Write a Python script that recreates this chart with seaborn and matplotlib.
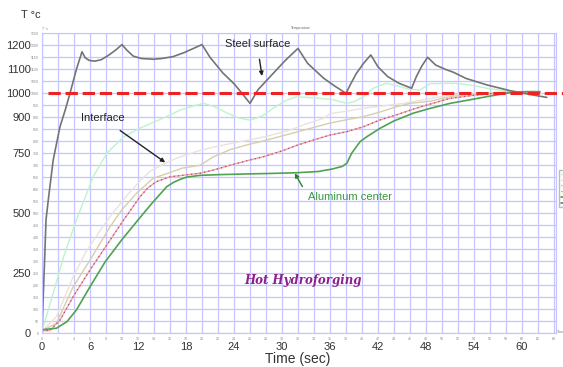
"""
Hot hydroforging - temperature vs time (steel surface, interface, aluminum center)
"""

import pandas as pd
import seaborn as sns
import matplotlib.pyplot as plt

sns.set_style("white")
plt.rcParams['font.family'] = ['Liberation Sans', 'DejaVu Sans']

# Podaci ocitani sa slike
steel_t = [0, 0.15, 0.37, 0.5, 0.8, 1.4, 2.25, 2.9, 3.5, 4.3, 5.0, 5.4, 5.9, 6.6, 7.4, 8.3, 9.2, 10.0,
           10.6, 11.4, 12.4, 13.9, 15.0, 16.4, 17.8, 19.0, 20.0, 21.0, 22.6, 24.0, 25.0, 26.0, 27.0,
           28.9, 30.5, 32.0, 33.2, 35.2, 36.6, 38.0, 38.6, 39.3, 40.2, 41.1, 42.0, 43.2, 44.6, 46.2,
           46.8, 47.5, 48.2, 49.2, 50.4, 51.4, 53.0, 55.6, 58.5, 61.0, 63.1]
steel_T = [0, 150, 347, 472, 560, 722, 861, 930, 1000, 1100, 1173, 1148, 1137, 1134, 1140, 1158, 1180,
           1203, 1180, 1155, 1145, 1142, 1145, 1153, 1170, 1188, 1203, 1150, 1085, 1040, 1000, 958, 1015,
           1083, 1140, 1187, 1125, 1063, 1030, 1000, 1040, 1083, 1125, 1160, 1110, 1070, 1042, 1021,
           1070, 1115, 1150, 1118, 1100, 1088, 1062, 1035, 1011, 995, 983]

mint_t = [0, 0.4, 1.4, 2.7, 4.3, 6.4, 8.1, 10.2, 12.25, 15.6, 17.25, 19.0, 20.2, 21.5, 23.0, 24.5, 26.0,
          27.5, 29.0, 30.5, 31.8, 33.5, 35.0, 36.2, 38.1, 39.0, 40.2, 41.4, 43.0, 44.5, 46.0, 47.25,
          48.5, 51.4, 53.5, 55.6, 57.5, 59.75, 62.25]
mint_T = [10, 55, 167, 319, 472, 653, 750, 819, 855, 903, 930, 948, 958, 945, 920, 898, 888, 905, 940,
          970, 986, 982, 978, 975, 958, 965, 986, 1021, 1042, 1030, 1016, 1014, 1040, 1042, 1035, 1021,
          1012, 1007, 1005]

pale_t = [0, 1.8, 3.9, 5.5, 7.3, 8.5, 10.5, 12.25, 13.5, 15.6, 17.25, 19.75, 22.0, 25.0, 28.0, 31.0,
          33.0, 35.2, 36.0, 38.0, 40.2, 42.25, 45.2, 48.0, 51.0, 54.0, 57.0, 60.0, 62.25]
pale_T = [10, 69, 236, 340, 430, 486, 570, 635, 675, 712, 735, 762, 780, 800, 820, 847, 872, 896, 915,
          925, 938, 946, 958, 975, 993, 1000, 1004, 1005, 1005]

tan_t = [0, 1.8, 3.9, 6.0, 8.5, 10.0, 11.8, 13.9, 16.0, 17.5, 19.75, 21.4, 23.5, 25.6, 27.5, 29.75,
         32.0, 34.0, 36.0, 38.1, 40.2, 42.25, 44.3, 46.0, 48.5, 51.0, 54.0, 57.0, 60.0, 62.25]
tan_T = [10, 42, 194, 305, 444, 515, 583, 646, 670, 688, 700, 735, 765, 785, 800, 820, 840, 858, 876,
         890, 903, 922, 944, 958, 967, 986, 998, 1003, 1005, 1005]

red_t = [0, 1.0, 2.25, 3.9, 6.0, 8.1, 10.2, 12.25, 13.2, 14.3, 16.0, 17.5, 19.75, 21.4, 23.5, 25.5,
         27.7, 30.0, 32.0, 33.9, 36.0, 38.1, 40.2, 42.25, 44.3, 46.5, 48.5, 51.0, 54.3, 57.7, 60.0, 62.25]
red_T = [10, 12, 55, 153, 264, 368, 472, 569, 605, 632, 652, 658, 667, 680, 700, 718, 736, 760, 785,
         805, 826, 840, 861, 889, 910, 935, 955, 979, 993, 1003, 1006, 1006]

alu_t = [0, 1.8, 3.1, 4.3, 6.0, 7.9, 9.96, 12.0, 13.75, 15.6, 16.5, 17.25, 18.1, 19.75, 22.0, 25.6,
         28.5, 31.8, 34.5, 36.2, 37.5, 38.1, 38.7, 39.75, 40.6, 42.25, 44.0, 46.4, 48.5, 51.0, 53.5,
         55.6, 58.5, 60.5, 62.25]
alu_T = [15, 21, 48, 97, 194, 298, 389, 472, 542, 611, 630, 641, 651, 658, 661, 664, 666, 669, 674,
         684, 695, 708, 750, 798, 819, 854, 885, 917, 937, 958, 973, 986, 1003, 1007, 1007]

target_temp = 1000

x_minor = list(range(0, 65, 2))
y_minor = list(range(0, 1251, 50))
x_major = [0, 6, 12, 18, 24, 30, 36, 42, 48, 54, 60]
y_major = [0, 250, 500, 750, 900, 1000, 1100, 1200]

series = [
    ('Outer', mint_t, mint_T, dict(color='#bcf4cc', lw=1.0)),
    ('Layer 1', pale_t, pale_T, dict(color='#ece2dc', lw=1.0)),
    ('Layer 2', tan_t, tan_T, dict(color='#d8cea8', lw=1.0)),
    ('Layer 3', red_t, red_T, dict(color='#f2a4a8', lw=1.0)),
    ('Aluminum center', alu_t, alu_T, dict(color='#4fa24f', lw=1.2)),
    ('Steel surface', steel_t, steel_T, dict(color='#747474', lw=1.2)),
]

fig = plt.figure(figsize=(5.63, 3.67), dpi=100)
ax = fig.add_axes([42 / 563, 33.7 / 367, 514 / 563, 300 / 367])

for name, t, T, style in series:
    df = pd.DataFrame({'Time': t, 'Temp': T})
    sns.lineplot(data=df, x='Time', y='Temp', ax=ax, label=name, **style)
    if name == 'Layer 3':
        # ljubicaste tacke preko roze linije
        sns.lineplot(data=df, x='Time', y='Temp', ax=ax, color='#a0507a', lw=0.9,
                     linestyle=(0, (1, 2.5)), legend=False)

ax.axhline(target_temp, xmin=0.012, xmax=1.02, color='#ee2222', lw=2.2,
           dashes=(4, 1.6), clip_on=False, zorder=5)

ax.set_xlim(0, 64.25)
ax.set_ylim(0, 1250)
ax.set_xticks(x_minor)
ax.set_yticks(y_minor)
ax.tick_params(labelsize=2.5, labelcolor='#888888', length=1.5, width=0.4, color='#999999', pad=1)
ax.grid(True, color='#c6c6ff', lw=0.9)
for sp in ax.spines.values():
    sp.set_color('#c4c4ff')
    sp.set_linewidth(0.8)
ax.set_xlabel('')
ax.set_ylabel('')

# spoljasnje oznake osa
sec_x = ax.secondary_xaxis('bottom')
sec_x.set_xticks(x_major)
sec_x.tick_params(length=0, pad=6, labelsize=8, labelcolor='#333333')
sec_x.spines['bottom'].set_visible(False)

sec_y = ax.secondary_yaxis('left')
sec_y.set_yticks(y_major)
sec_y.tick_params(length=0, pad=8, labelsize=8, labelcolor='#333333')
sec_y.spines['left'].set_visible(False)

fig.text(31 / 563, 1 - 15 / 367, 'T °c', fontsize=8, color='#333333', ha='center', va='center')
fig.text(298 / 563, 1 - 359 / 367, 'Time (sec)', fontsize=10, color='#333333',
         ha='center', va='center')
fig.text(45 / 563, 1 - 29 / 367, 'T °c', fontsize=2.5, color='#888888', ha='center', va='center')
fig.text(301 / 563, 1 - 28 / 367, 'Temperature', fontsize=2.5, color='#666666',
         ha='center', va='center')
fig.text(557 / 563, 1 - 332 / 367, 'Time', fontsize=2.5, color='#888888', ha='left', va='center')

# anotacije
ax.annotate('Steel surface', xy=(27.5, 1072), xytext=(26.9, 1205), fontsize=8, color='#222222',
            ha='center', va='center',
            arrowprops=dict(arrowstyle='-|>', color='#222222', lw=1.0, mutation_scale=6,
                            shrinkA=5, shrinkB=0))
ax.annotate('Interface', xy=(15.4, 712), xytext=(7.6, 896), fontsize=8, color='#222222',
            ha='center', va='center',
            arrowprops=dict(arrowstyle='-|>', color='#222222', lw=1.0, mutation_scale=6,
                            shrinkA=5, shrinkB=0))
ax.annotate('Aluminum center', xy=(31.6, 667), xytext=(33.3, 567), fontsize=8, color='#3a9a3a',
            ha='left', va='center',
            arrowprops=dict(arrowstyle='-|>', color='#2f7f2f', lw=1.0, mutation_scale=6,
                            shrinkA=4, shrinkB=0, relpos=(0, 0.5)))
ax.text(32.6, 222, 'Hot Hydroforging', fontsize=8.5, color='#8b1f8b', style='italic',
        fontweight='bold', family=['DejaVu Serif'], ha='center', va='center')

leg = ax.legend(loc='upper left', bbox_to_anchor=(1.003, 0.55), fontsize=2.5, frameon=True,
                fancybox=False, edgecolor='#aaaaaa', handlelength=2, borderpad=0.6)

plt.savefig('out.png', dpi=100)
